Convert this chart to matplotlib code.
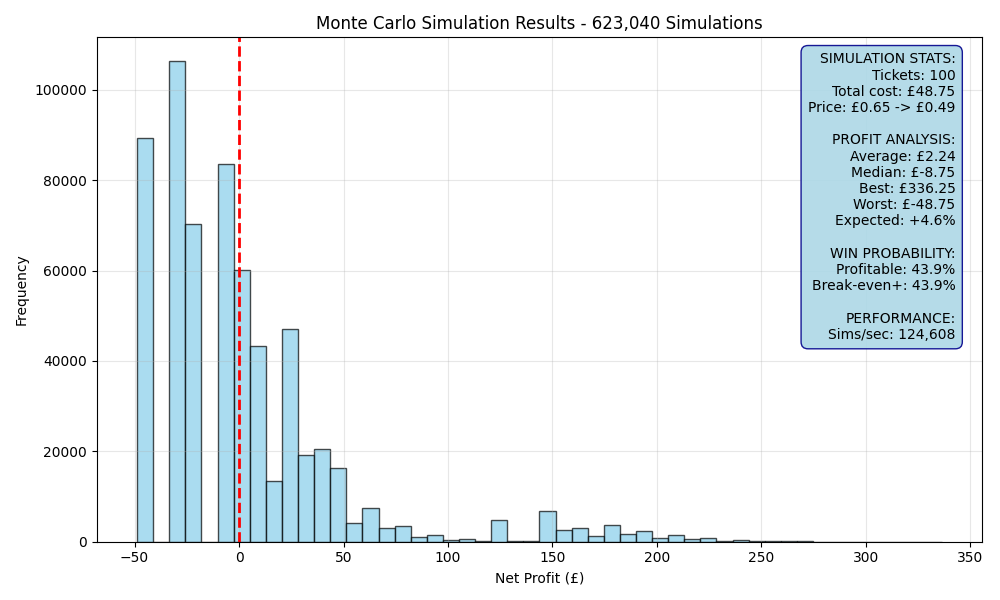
import numpy as np
import matplotlib.pyplot as plt

peor = -48.75
mejor = 336.25
n_bins = 50
frecuencias = [
    89300, 0, 106300, 70400, 0, 83600, 60200, 43400, 13400, 47000,
    19200, 20500, 16300, 4100, 7500, 3100, 3500, 1100, 1500, 440,
    660, 150, 4900, 150, 150, 6900, 2650, 3100, 1300, 3700,
    1770, 2300, 740, 1500, 500, 880, 150, 370, 150, 100,
    100, 60, 40, 25, 15, 10, 6, 4, 2, 1,
]

texto_stats = (
    "SIMULATION STATS:\n"
    "Tickets: 100\n"
    "Total cost: £48.75\n"
    "Price: £0.65 -> £0.49\n"
    "\n"
    "PROFIT ANALYSIS:\n"
    "Average: £2.24\n"
    "Median: £-8.75\n"
    "Best: £336.25\n"
    "Worst: £-48.75\n"
    "Expected: +4.6%\n"
    "\n"
    "WIN PROBABILITY:\n"
    "Profitable: 43.9%\n"
    "Break-even+: 43.9%\n"
    "\n"
    "PERFORMANCE:\n"
    "Sims/sec: 124,608"
)


def graficar():
    bordes = np.linspace(peor, mejor, n_bins + 1)
    centros = (bordes[:-1] + bordes[1:]) / 2

    fig, ax = plt.subplots(figsize=(10, 6))
    ax.hist(centros, bins=bordes, weights=frecuencias, color='skyblue',
            alpha=0.7, edgecolor='black')
    ax.axvline(0, color='red', linestyle='--', linewidth=2)

    ax.set_title('Monte Carlo Simulation Results - 623,040 Simulations')
    ax.set_xlabel('Net Profit (£)')
    ax.set_ylabel('Frequency')
    ax.grid(True, alpha=0.3)

    ax.text(0.97, 0.97, texto_stats, transform=ax.transAxes, fontsize=10,
            ha='right', va='top',
            bbox=dict(boxstyle='round,pad=0.5', facecolor='lightblue',
                      alpha=0.9, edgecolor='darkblue'))

    plt.tight_layout()
    plt.savefig('out.png', dpi=100)


if __name__ == "__main__":
    graficar()
